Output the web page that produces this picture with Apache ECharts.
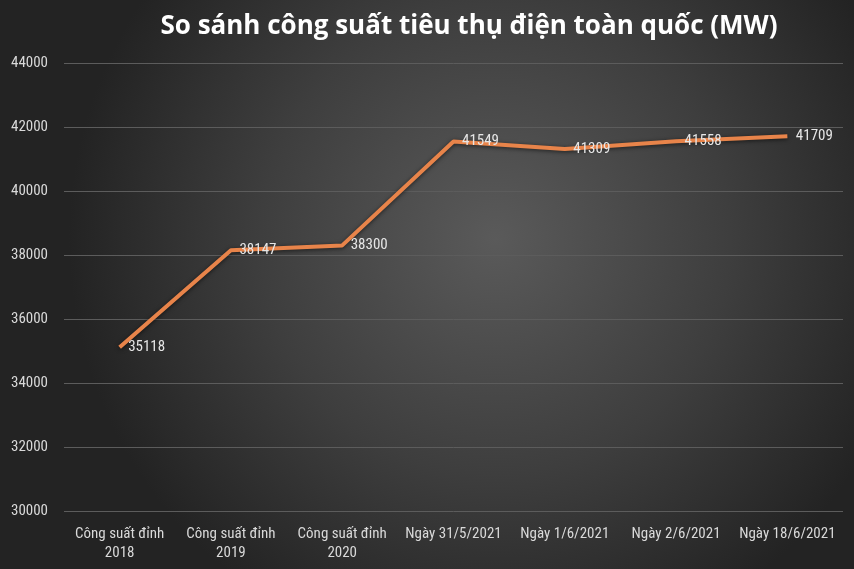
<!DOCTYPE html>
<html>
<head>
<meta charset="utf-8">
<style>
  html, body { margin: 0; padding: 0; background: #2b2b2b; }
  #main { width: 854px; height: 569px; }
</style>
<script src="https://cdn.jsdelivr.net/npm/echarts@6/dist/echarts.min.js"></script>
</head>
<body>
<div id="main"></div>
<script>
// du lieu
var categories = ['Công suất đỉnh\n2018', 'Công suất đỉnh\n2019', 'Công suất đỉnh\n2020',
    'Ngày 31/5/2021', 'Ngày 1/6/2021', 'Ngày 2/6/2021', 'Ngày 18/6/2021'];
var congSuat = [35118, 38147, 38300, 41549, 41309, 41558, 41709];
var yMin = 30000, yMax = 44000, yStep = 2000;

var chart = echarts.init(document.getElementById('main'));
var labelFont = "'Liberation Sans Narrow', 'Roboto Condensed', 'Noto Sans', sans-serif";

var option = {
    backgroundColor: {
        type: 'radial', x: 0.58, y: 0.42, r: 0.75,
        colorStops: [
            { offset: 0, color: '#5a5a5a' },
            { offset: 0.55, color: '#3e3e3e' },
            { offset: 1, color: '#232323' }
        ]
    },
    title: {
        text: 'So sánh công suất tiêu thụ điện toàn quốc (MW)',
        left: 464, top: 9, textAlign: 'center',
        textStyle: {
            color: '#ffffff', fontSize: 26, fontWeight: 'bold',
            fontFamily: "'Open Sans', 'Noto Sans', sans-serif"
        }
    },
    grid: { left: 64, right: 11, top: 63, bottom: 58 },
    xAxis: {
        type: 'category',
        data: categories,
        boundaryGap: true,
        axisLine: { show: false },
        axisTick: { show: false },
        axisLabel: {
            color: '#d9d9d9', fontSize: 15, fontFamily: labelFont,
            margin: 14, lineHeight: 19, interval: 0
        }
    },
    yAxis: {
        type: 'value',
        min: yMin, max: yMax, interval: yStep,
        axisLine: { show: false },
        axisTick: { show: false },
        splitLine: { lineStyle: { color: '#5c5c5c', width: 1 } },
        axisLabel: {
            color: '#d9d9d9', fontSize: 15, fontFamily: labelFont, margin: 16,
            formatter: function (v) { return String(v); }
        }
    },
    series: [{
        type: 'line',
        data: congSuat,
        symbol: 'circle',
        symbolSize: 1,
        showSymbol: true,
        itemStyle: { color: 'rgba(0,0,0,0)', borderWidth: 0 },
        lineStyle: {
            color: '#e8844a', width: 4,
            shadowColor: 'rgba(0,0,0,0.6)', shadowBlur: 4, shadowOffsetY: 1
        },
        label: {
            show: true, position: 'right', distance: 8,
            color: '#e6e6e6', fontSize: 15, fontFamily: labelFont,
            offset: [0, 2]
        },
        labelLayout: { hideOverlap: false },
        silent: true,
        animation: false
    }]
};
chart.setOption(option);
</script>
</body>
</html>
